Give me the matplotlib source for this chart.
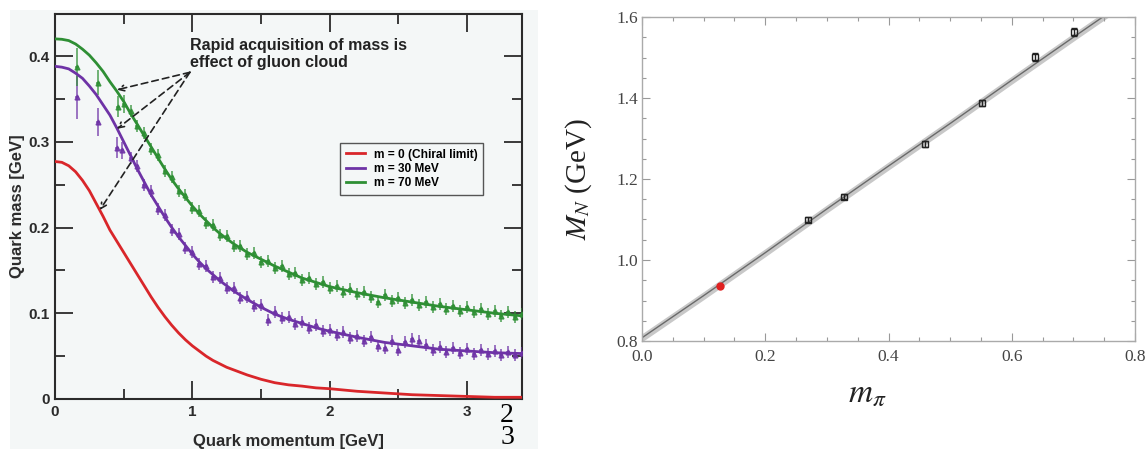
import matplotlib
matplotlib.use("Agg")
import matplotlib.pyplot as plt
from matplotlib.patches import Rectangle
from matplotlib.ticker import MultipleLocator, FixedLocator, FixedFormatter

plt.rcParams['mathtext.fontset'] = 'stix'

# ---------------- Left panel data ----------------
CURVE_X = [0.0, 0.05, 0.1, 0.15, 0.2, 0.25, 0.3, 0.35, 0.4, 0.45, 0.5, 0.55, 0.6, 0.65, 0.7,
           0.75, 0.8, 0.85, 0.9, 0.95, 1.0, 1.05, 1.1, 1.15, 1.2, 1.25, 1.3, 1.4, 1.5, 1.6,
           1.7, 1.8, 1.9, 2.0, 2.2, 2.4, 2.6, 2.8, 3.0, 3.2, 3.4]
RED_CURVE = [0.277, 0.276, 0.272, 0.265, 0.255, 0.243, 0.228, 0.213, 0.197, 0.184, 0.171,
             0.158, 0.145, 0.132, 0.119, 0.107, 0.096, 0.086, 0.077, 0.069, 0.062, 0.056,
             0.050, 0.045, 0.041, 0.037, 0.034, 0.028, 0.023, 0.019, 0.0165, 0.015, 0.013,
             0.012, 0.009, 0.007, 0.005, 0.004, 0.003, 0.002, 0.002]
PURPLE_CURVE = [0.388, 0.387, 0.385, 0.380, 0.374, 0.365, 0.355, 0.343, 0.331, 0.316, 0.300,
                0.284, 0.268, 0.253, 0.238, 0.225, 0.212, 0.200, 0.189, 0.179, 0.169, 0.160,
                0.152, 0.145, 0.138, 0.132, 0.126, 0.116, 0.107, 0.099, 0.093, 0.088, 0.083,
                0.079, 0.072, 0.066, 0.062, 0.058, 0.056, 0.054, 0.053]
GREEN_CURVE = [0.420, 0.4195, 0.418, 0.414, 0.408, 0.401, 0.392, 0.382, 0.370, 0.359, 0.347,
               0.333, 0.320, 0.307, 0.294, 0.281, 0.268, 0.256, 0.245, 0.235, 0.225, 0.216,
               0.208, 0.200, 0.193, 0.187, 0.181, 0.171, 0.163, 0.155, 0.148, 0.141, 0.136,
               0.131, 0.124, 0.118, 0.113, 0.108, 0.104, 0.100, 0.097]

DATA_X = [0.55, 0.60, 0.65, 0.70, 0.75, 0.80, 0.85, 0.90, 0.95, 1.00, 1.05, 1.10, 1.15, 1.20,
          1.25, 1.30, 1.35, 1.40, 1.45, 1.50, 1.55, 1.60, 1.65, 1.70, 1.75, 1.80, 1.85, 1.90,
          1.95, 2.00, 2.05, 2.10, 2.15, 2.20, 2.25, 2.30, 2.35, 2.40, 2.45, 2.50, 2.55, 2.60,
          2.65, 2.70, 2.75, 2.80, 2.85, 2.90, 2.95, 3.00, 3.05, 3.10, 3.15, 3.20, 3.25, 3.30,
          3.35, 3.40]
GREEN_DATA = [0.336, 0.318, 0.310, 0.291, 0.284, 0.266, 0.259, 0.243, 0.238, 0.223, 0.219,
              0.205, 0.203, 0.191, 0.190, 0.179, 0.178, 0.169, 0.170, 0.160, 0.161, 0.153,
              0.155, 0.146, 0.147, 0.139, 0.141, 0.134, 0.136, 0.129, 0.132, 0.125, 0.128,
              0.122, 0.125, 0.119, 0.113, 0.121, 0.114, 0.118, 0.112, 0.116, 0.110, 0.113,
              0.107, 0.111, 0.105, 0.109, 0.103, 0.107, 0.101, 0.105, 0.099, 0.103, 0.097,
              0.101, 0.096, 0.099]
PURPLE_DATA = [0.281, 0.272, 0.250, 0.242, 0.222, 0.215, 0.197, 0.192, 0.176, 0.172, 0.157,
               0.155, 0.142, 0.141, 0.129, 0.129, 0.118, 0.119, 0.108, 0.110, 0.092, 0.101,
               0.094, 0.096, 0.088, 0.090, 0.083, 0.086, 0.079, 0.081, 0.075, 0.078, 0.071,
               0.074, 0.068, 0.072, 0.062, 0.060, 0.068, 0.057, 0.066, 0.070, 0.068, 0.063,
               0.057, 0.061, 0.055, 0.059, 0.054, 0.058, 0.053, 0.057, 0.052, 0.056, 0.051,
               0.055, 0.051, 0.054]
GREEN_ERR = 0.007
PURPLE_ERR = 0.007

GREEN_EARLY_X = [0.16, 0.31, 0.46, 0.50]
GREEN_EARLY_Y = [0.387, 0.369, 0.341, 0.344]
GREEN_EARLY_ERR = [0.022, 0.015, 0.012, 0.010]
PURPLE_EARLY_X = [0.16, 0.31, 0.45, 0.49]
PURPLE_EARLY_Y = [0.352, 0.323, 0.293, 0.290]
PURPLE_EARLY_ERR = [0.025, 0.016, 0.012, 0.010]

LEGEND_LABELS = ["m = 0 (Chiral limit)", "m = 30 MeV", "m = 70 MeV"]

# ---------------- Right panel data ----------------
MPI = [0.269, 0.328, 0.459, 0.552, 0.638, 0.701]
MN = [1.099, 1.156, 1.287, 1.388, 1.501, 1.563]
MN_ERR = [0.006, 0.006, 0.007, 0.008, 0.010, 0.010]
PHYS_MPI = [0.127]
PHYS_MN = [0.936]
FIT_X = [0.0, 0.1, 0.2, 0.3, 0.4, 0.5, 0.6, 0.7, 0.8]
FIT_Y = [0.808, 0.912, 1.018, 1.126, 1.232, 1.337, 1.444, 1.550, 1.655]
FIT_HALFWIDTH = 0.010

RED = '#d9262a'
PURPLE = '#6e33a6'
GREEN = '#2e8f34'
PANEL_BG = '#f4f7f7'
DARK = '#2b2b2b'

W, H = 1148, 449
fig = plt.figure(figsize=(W / 100, H / 100), dpi=100)
fig.patch.set_facecolor('white')
fig.add_artist(Rectangle((10 / W, 0), 528 / W, 439 / H, transform=fig.transFigure,
                         facecolor=PANEL_BG, edgecolor='none', zorder=0))

# ---------------- Left panel ----------------
sans = ['Liberation Sans', 'DejaVu Sans']
ax = fig.add_axes([55 / W, 1 - 399 / H, 467 / W, 385 / H])
ax.set_facecolor(PANEL_BG)
ax.set_xlim(0, 3.4)
ax.set_ylim(0, 0.449)

ax.errorbar(PURPLE_EARLY_X + DATA_X, PURPLE_EARLY_Y + PURPLE_DATA,
            yerr=PURPLE_EARLY_ERR + [PURPLE_ERR] * len(DATA_X), xerr=0.014,
            fmt='^', ms=3.5, color=PURPLE, ecolor=PURPLE, elinewidth=1.1, capsize=0,
            alpha=0.85, zorder=3)
ax.errorbar(GREEN_EARLY_X + DATA_X, GREEN_EARLY_Y + GREEN_DATA,
            yerr=GREEN_EARLY_ERR + [GREEN_ERR] * len(DATA_X), xerr=0.014,
            fmt='^', ms=3.5, color=GREEN, ecolor=GREEN, elinewidth=1.1, capsize=0,
            alpha=0.85, zorder=3)

l1, = ax.plot(CURVE_X, RED_CURVE, color=RED, lw=2.0, zorder=4)
l2, = ax.plot(CURVE_X, PURPLE_CURVE, color=PURPLE, lw=2.0, zorder=4)
l3, = ax.plot(CURVE_X, GREEN_CURVE, color=GREEN, lw=2.0, zorder=4)

leg = ax.legend([l1, l2, l3], LEGEND_LABELS, loc='lower left', bbox_to_anchor=(0.598, 0.515),
                prop={'family': sans, 'weight': 'bold', 'size': 8.6}, frameon=True,
                fancybox=False, edgecolor='#555555', facecolor=PANEL_BG, framealpha=1,
                handlelength=1.6, handletextpad=0.8, borderpad=0.45, labelspacing=0.2)
leg.get_frame().set_linewidth(1.0)

ax.xaxis.set_major_locator(FixedLocator([0, 1, 2, 3]))
ax.xaxis.set_minor_locator(MultipleLocator(0.5))
ax.yaxis.set_major_locator(FixedLocator([0, 0.1, 0.2, 0.3, 0.4]))
ax.yaxis.set_major_formatter(FixedFormatter(['0', '0.1', '0.2', '0.3', '0.4']))
ax.yaxis.set_minor_locator(MultipleLocator(0.05))
ax.tick_params(which='both', direction='in', top=True, right=True, color=DARK, width=1.3)
ax.tick_params(which='major', length=13, pad=4)
ax.tick_params(which='minor', length=7)
for lab in ax.get_xticklabels() + ax.get_yticklabels():
    lab.set_family(sans)
    lab.set_fontweight('bold')
    lab.set_fontsize(11)
    lab.set_color(DARK)
for s in ax.spines.values():
    s.set_color(DARK)
    s.set_linewidth(1.5)

ax.set_xlabel('Quark momentum [GeV]', family=sans, weight='bold', fontsize=12, color=DARK)
ax.xaxis.set_label_coords(0.5, -0.091)
ax.set_ylabel('Quark mass [GeV]', family=sans, weight='bold', fontsize=12, color=DARK)
ax.yaxis.set_label_coords(-0.064, 0.5)

ax.text(0.985, 0.421, 'Rapid acquisition of mass is\neffect of gluon cloud',
        family=sans, weight='bold', fontsize=11.5, color='#222222', va='top', ha='left',
        linespacing=1.15, zorder=5)
origin = (0.982, 0.381)
for tgt in [(0.451, 0.3606), (0.451, 0.315), (0.327, 0.2205)]:
    ax.annotate('', xy=tgt, xytext=origin,
                arrowprops=dict(arrowstyle='->', linestyle=(0, (4, 2.5)), color='#222222',
                                lw=1.2, shrinkA=0, shrinkB=0), zorder=5)

fig.text(507 / W, 1 - 415 / H, '2', family='Liberation Serif', fontsize=20,
         ha='center', va='center', color='black')
fig.text(507 / W, 1 - 438 / H, '3', family='Liberation Serif', fontsize=20,
         ha='center', va='center', color='black')

# ---------------- Right panel ----------------
serif = ['Liberation Serif', 'DejaVu Serif']
ax2 = fig.add_axes([642 / W, 1 - 341 / H, 493 / W, 324 / H])
ax2.set_xlim(0, 0.8)
ax2.set_ylim(0.8, 1.6)
lower = [y - FIT_HALFWIDTH for y in FIT_Y]
upper = [y + FIT_HALFWIDTH for y in FIT_Y]
ax2.fill_between(FIT_X, lower, upper, color='#c8c8c8', lw=0, zorder=1)
ax2.plot(FIT_X, FIT_Y, color='#6a6a6a', lw=1.0, zorder=2)
ax2.errorbar(MPI, MN, yerr=MN_ERR, fmt='s', ms=5, mfc='none', mec='#222222',
             ecolor='#222222', elinewidth=1.0, capsize=2.5, capthick=1.0, mew=1.0, zorder=3)
ax2.plot(PHYS_MPI, PHYS_MN, 'o', color='#e02020', ms=5, zorder=4)

ax2.xaxis.set_major_locator(MultipleLocator(0.2))
ax2.xaxis.set_minor_locator(MultipleLocator(0.05))
ax2.yaxis.set_major_locator(MultipleLocator(0.2))
ax2.yaxis.set_minor_locator(MultipleLocator(0.05))
ax2.xaxis.set_major_formatter(plt.FormatStrFormatter('%.1f'))
ax2.yaxis.set_major_formatter(plt.FormatStrFormatter('%.1f'))
ax2.tick_params(which='both', direction='in', top=True, right=True, color='#999999', width=0.8)
ax2.tick_params(which='major', length=6)
ax2.tick_params(which='minor', length=3)
ax2.tick_params(axis='x', pad=6)
ax2.tick_params(axis='y', pad=3)
for lab in ax2.get_xticklabels() + ax2.get_yticklabels():
    lab.set_family(serif)
    lab.set_fontsize(12.5)
    lab.set_color('#444444')
for s in ax2.spines.values():
    s.set_color('#aaaaaa')
    s.set_linewidth(1.0)

ax2.set_ylabel(r'$M_N$ (GeV)', family=serif, fontsize=21, color='#222222')
ax2.yaxis.set_label_coords(-0.097, 0.5)
ax2.set_xlabel(r'$m_\pi$', fontsize=24, color='#222222')
ax2.xaxis.set_label_coords(0.458, -0.105)

fig.savefig('out.png', dpi=100, facecolor='white')
